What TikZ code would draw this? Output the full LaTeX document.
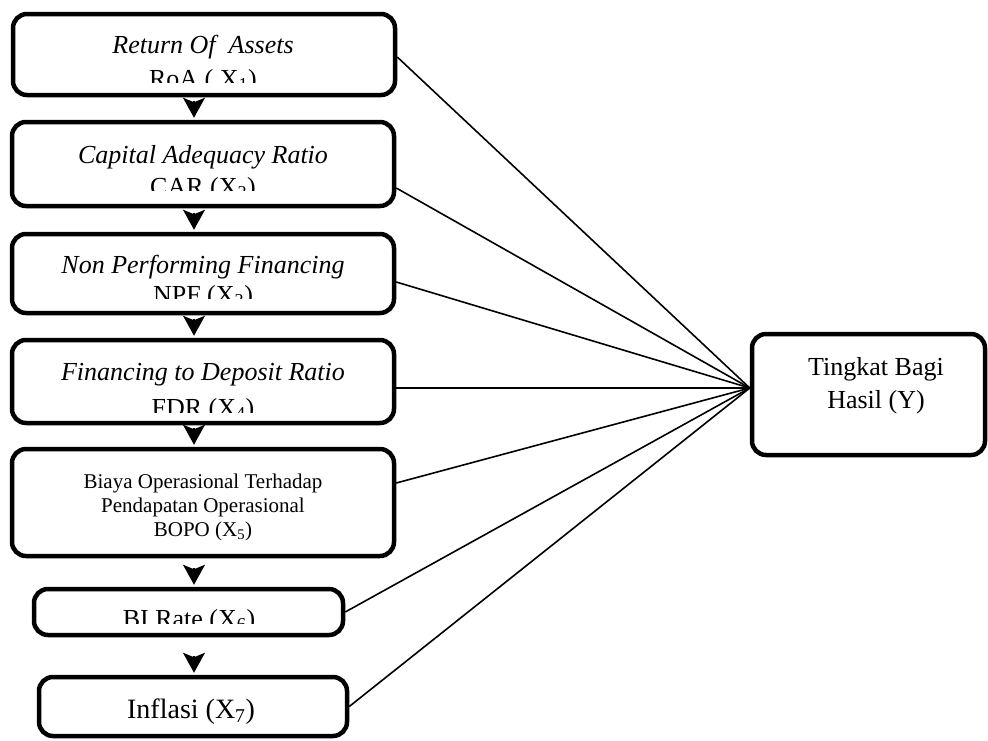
\documentclass[tikz,border=0pt]{standalone}
\usepackage{fontspec}
\setmainfont{Liberation Serif}
\usetikzlibrary{arrows.meta}
\begin{document}
\begin{tikzpicture}[x=1pt,y=-1pt,
  box/.style={draw=black,fill=white,line width=4.5pt,rounded corners=14pt,
    minimum width=#1,inner sep=0pt},
  big/.style={font=\fontsize{26}{30}\selectfont},
  bigit/.style={font=\fontsize{26}{30}\selectfont\itshape},
  link/.style={line width=1.6pt,black},
  vhead/.style={line width=1.5pt,black,shorten >=2pt,
    -{Stealth[length=20pt,width=22pt,inset=4.5pt]}}]
\useasboundingbox (0,0) rectangle (988,740);
% boxes
\node[box=382pt,minimum height=81pt]  (b1) at (204,54.5) {};
\node[box=382pt,minimum height=84pt]  (b2) at (203,164) {};
\node[box=382pt,minimum height=79pt]  (b3) at (203,273.5) {};
\node[box=382pt,minimum height=83pt]  (b4) at (203,381.5) {};
\node[box=382pt,minimum height=107pt] (b5) at (203,502.5) {};
\node[box=309pt,minimum height=46pt]  (b6) at (188.5,612) {};
\node[box=308pt,minimum height=59pt]  (b7) at (193,706.5) {};
\node[box=233pt,minimum height=121pt] (Y)  at (868.5,394.5) {};
% texts
\node[bigit,anchor=base] (t1a) at (203,53) {Return Of\ \ Assets};
\begin{scope}
  \clip (20,60) rectangle (390,82);
  \node[big,anchor=base] (t1b) at (203,87) {RoA ( X\textsubscript{1})};
\end{scope}
\node[bigit,anchor=base] (t2a) at (203,163) {Capital Adequacy Ratio};
\begin{scope}
  \clip (20,170) rectangle (390,190.5);
  \node[big,anchor=base] (t2b) at (203,195) {CAR (X\textsubscript{2})};
\end{scope}
\node[bigit,anchor=base] (t3a) at (203,273) {Non Performing Financing};
\begin{scope}
  \clip (20,278) rectangle (390,298);
  \node[big,anchor=base] (t3b) at (203,303) {NPF (X\textsubscript{3})};
\end{scope}
\node[bigit,anchor=base] (t4a) at (203,380) {Financing to Deposit Ratio};
\begin{scope}
  \clip (20,390) rectangle (390,412);
  \node[big,anchor=base] (t4b) at (203,416) {FDR (X\textsubscript{4})};
\end{scope}
\node[align=center,font=\fontsize{21}{24}\selectfont] (t5) at (203,507)
  {Biaya Operasional Terhadap\\Pendapatan Operasional\\BOPO (X\textsubscript{5})};
\begin{scope}
  \clip (40,600) rectangle (340,623);
  \node[big,anchor=base] (t6) at (189,627) {BI Rate (X\textsubscript{6})};
\end{scope}
\node[font=\fontsize{28}{32}\selectfont,anchor=base] (t7) at (191,718) {Inflasi (X\textsubscript{7})};
\node[align=center,font=\fontsize{26}{33}\selectfont] (ty) at (876,386) {Tingkat Bagi\\Hasil (Y)};
% arrows
\coordinate (ax) at (194,0);
\draw[vhead,shorten <=4pt]  (b1.south -| ax) -- (b2.north -| ax);
\draw[vhead,shorten <=5pt]  (b2.south -| ax) -- (b3.north -| ax);
\draw[vhead,shorten <=4pt]  (b3.south -| ax) -- (b4.north -| ax);
\draw[vhead,shorten <=3pt]  (b4.south -| ax) -- (b5.north -| ax);
\draw[vhead,shorten <=10pt] (b5.south -| ax) -- (b6.north -| ax);
\draw[vhead,shorten <=19pt] (b6.south -| ax) -- (b7.north -| ax);
% links to Y
\coordinate (yin) at ([yshift=6.5pt]Y.west);
\draw[link] ([yshift=-2.5pt]b1.east) -- (yin);
\draw[link] ([yshift=-24pt]b2.east) -- (yin);
\draw[link] ([yshift=-8.5pt]b3.east) -- (yin);
\draw[link] ([yshift=-6.5pt]b4.east) -- (yin);
\draw[link] ([yshift=19.5pt]b5.east) -- (yin);
\draw[link] (b6.east) -- (yin);
\draw[link] (b7.east) -- (yin);
\end{tikzpicture}
\end{document}
